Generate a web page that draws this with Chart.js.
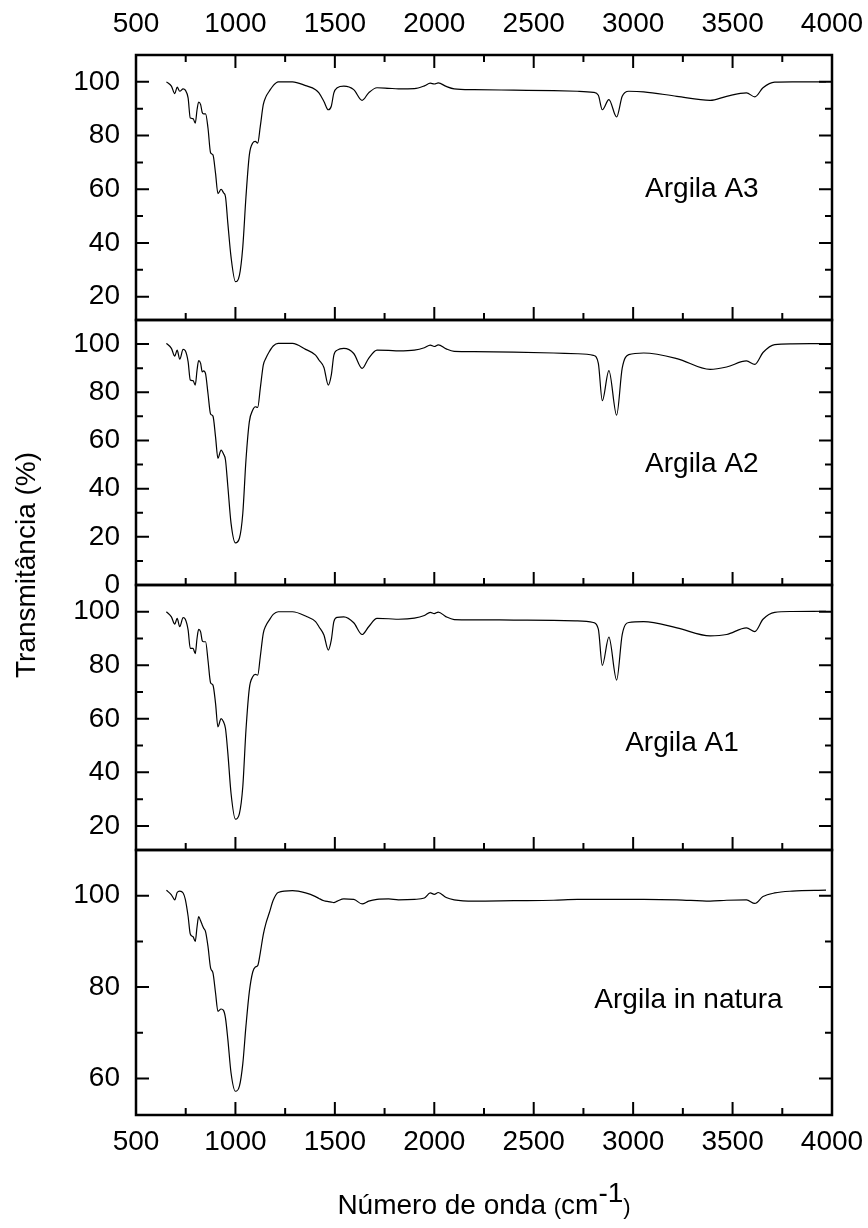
<!DOCTYPE html>
<html>
<head>
<meta charset="utf-8">
<script src="https://cdn.jsdelivr.net/npm/chart.js@4.4.1/dist/chart.umd.min.js"></script>
<style>
  body { margin: 0; background: #fff; }
  #wrap { position: relative; width: 868px; height: 1228px; font-family: "Liberation Sans", Arial, sans-serif; color: #000; }
  #wrap canvas { position: absolute; left: 0; top: 0; }
  .ytitle { position: absolute; left: -174px; top: 550px; width: 400px; height: 30px; line-height: 30px;
            font-size: 28px; text-align: center; white-space: nowrap; transform: rotate(-90deg); }
  .xtitle { position: absolute; left: 136px; top: 1191px; width: 696px; line-height: 28px;
            font-size: 28px; text-align: center; white-space: nowrap; }
  .xtitle .sm { font-size: 22px; }
  .xtitle .sup { position: relative; top: -12px; }
</style>
</head>
<body>
<div id="wrap">
  <canvas id="js-ftirChart" width="868" height="1228"></canvas>
  <div class="ytitle">Transmitância (%)</div>
  <div class="xtitle">Número de onda <span class="sm">(</span>cm<span class="sup">-1</span><span class="sm">)</span></div>
</div>
<script>
// wavenumbers (cm-1), shared by all four spectra
var wavenumber = [653, 678, 695, 707, 720, 737, 748, 762, 773, 787,
  798, 807, 815, 825, 833, 840, 850, 862, 875, 887,
  900, 912, 928, 940, 950, 962, 978, 1000, 1020, 1037,
  1053, 1070, 1087, 1100, 1112, 1125, 1140, 1153, 1170, 1190,
  1215, 1287, 1353, 1403, 1420, 1445, 1467, 1482, 1495, 1512,
  1545, 1595, 1637, 1670, 1712, 1770, 1820, 1900, 1950, 1980,
  2000, 2020, 2060, 2100, 2200, 2400, 2600, 2720, 2800, 2825,
  2845, 2878, 2917, 2945, 2978, 3053, 3220, 3387, 3470, 3570,
  3612, 3653, 3712, 3800, 3970];

// transmittance (%)
var argilaA3 = [100, 98.4, 95.6, 98, 96.5, 97.4, 96.9, 94, 86.5, 86.3,
  84.6, 89.6, 92.5, 91.5, 88.6, 88.1, 88.1, 82.8, 73.6, 72.8,
  65.9, 58.4, 60, 58.7, 57.2, 47.2, 34.7, 25.6, 27.9, 38.5,
  57.2, 72.8, 77.2, 77.8, 77.2, 83.4, 91.5, 94.4, 96.5, 98.6,
  100, 100, 98.6, 97.1, 95.9, 92.7, 89.6, 90.9, 95.9, 97.8,
  98.4, 97.1, 93.1, 95.9, 97.8, 97.6, 97.4, 97.5, 98.5, 99.5,
  99.2, 99.6, 98.3, 97.4, 97.1, 96.9, 96.7, 96.5, 96.1, 95,
  89.6, 93.4, 86.9, 94.6, 96.5, 96.3, 94.6, 93.1, 94.6, 95.9,
  94.4, 97.8, 99.9, 100, 100];

var argilaA2 = [100.3, 98.2, 95, 97.5, 93.7, 97.8, 97.2, 92.7, 85.1, 84.8,
  83, 89.2, 93.1, 92, 88.5, 88.9, 87.6, 79.5, 71, 70.1,
  61.5, 52.6, 56, 54.4, 51.9, 40.8, 25.6, 17.5, 19.4, 29.7,
  51.9, 67.8, 72.6, 74, 73.7, 81.6, 91.3, 94.1, 96.8, 99.2,
  100.3, 100.3, 97.8, 95.4, 93.4, 90.3, 83, 87.1, 95.4, 97.5,
  98.2, 96.1, 89.9, 94.1, 97.5, 97.4, 97.2, 97.5, 98.5, 99.6,
  99, 99.7, 98, 97, 96.9, 96.7, 96.3, 96, 95.3, 92,
  76.5, 89, 70.5, 90, 95.6, 96.3, 94, 89.5, 90.5, 93,
  91.6, 96.5, 99.8, 100.1, 100.2];

var argilaA1 = [100, 98.1, 95.4, 97.5, 94.4, 97.8, 97.2, 93.2, 86.3, 86.3,
  84.4, 90.1, 93.4, 92.5, 89.2, 88.8, 88.8, 81.9, 73.5, 72.6,
  65.8, 57, 60.1, 58.9, 56.4, 47.1, 32.1, 22.5, 24.6, 34.6,
  55.8, 71.4, 75.7, 76.6, 76.3, 83.2, 91.9, 94.8, 96.9, 99,
  100, 100, 98.4, 96.3, 94.4, 91.3, 85.7, 89.4, 96.3, 97.9,
  98.1, 95.9, 91.5, 94.4, 97.5, 97.4, 97.2, 97.6, 98.6, 99.8,
  99.3, 99.9, 98.1, 97.1, 97, 96.9, 96.8, 96.6, 96, 93.5,
  80, 90.5, 74.5, 91.5, 96, 96.3, 94, 91, 91.5, 94,
  92.6, 97.2, 99.8, 100.1, 100.2];

var argilaNatura = [101.2, 100.2, 99.1, 100.7, 101, 100.6, 99.2, 95.5, 91.6, 91,
  90, 93.2, 95.4, 94.5, 93.6, 92.9, 92.1, 88.9, 84.2, 83.1,
  78.7, 74.7, 75.2, 74.9, 73.2, 68.5, 61.2, 57.2, 58.3, 63.2,
  71.5, 79, 83.3, 84.4, 84.7, 87.5, 91.5, 93.9, 96.2, 99,
  100.7, 101.1, 100.6, 99.8, 99.4, 98.9, 98.7, 98.6, 98.5, 98.8,
  99.3, 99.2, 98.2, 98.8, 99.2, 99.3, 99.1, 99.2, 99.5, 100.6,
  100.3, 100.7, 99.6, 99.1, 98.8, 98.9, 99, 99.2, 99.2, 99.2,
  99.2, 99.2, 99.2, 99.2, 99.2, 99.2, 99.1, 98.8, 99, 99.1,
  98.3, 99.8, 100.6, 101, 101.2];

var seriesNames = ['Argila A3', 'Argila A2', 'Argila A1', 'Argila in natura'];
var seriesValues = [argilaA3, argilaA2, argilaA1, argilaNatura];

// axes: top panel first
var panelIds = ['yA3', 'yA2', 'yA1', 'yN'];
var panelMin = [11.3, 0, 11, 52];
var panelMax = [110, 110, 110, 110];
var xMin = 500, xMax = 4000, xStep = 500, yStep = 20;

// where the panel names sit (data coords: wavenumber, transmittance at baseline)
var nameAt = [[3060, 57], [3060, 46.7], [2960, 48.1], [2805, 75.5]];

var FONT = {family: '"Liberation Sans", Arial, sans-serif', size: 28};
var plainLabel = function(v) { return String(v); };

/*--------------------
    frame, inner ticks, names
--------------------*/
var framePlugin = {
    id: 'framePlugin',
    afterDatasetsDraw: function(chart) {
        var ctx = chart.ctx;
        var left = chart.chartArea.left, right = chart.chartArea.right;
        var x = chart.scales.x;
        ctx.save();
        ctx.strokeStyle = '#000';
        panelIds.forEach(function(id, k) {
            var s = chart.scales[id];
            ctx.lineWidth = 2;
            ctx.beginPath();
            for (var v = Math.ceil(s.min / 10) * 10; v <= s.max; v += 10) {
                var py = s.getPixelForValue(v);
                var len = v % 20 === 0 ? 13 : 7;
                ctx.moveTo(left, py); ctx.lineTo(left + len, py);
                ctx.moveTo(right, py); ctx.lineTo(right - len, py);
            }
            for (var w = xMin; w <= xMax; w += 250) {
                var px = x.getPixelForValue(w);
                var l2 = w % 500 === 0 ? 13 : 7;
                ctx.moveTo(px, s.bottom); ctx.lineTo(px, s.bottom - l2);
                if (k === 0) { ctx.moveTo(px, s.top); ctx.lineTo(px, s.top + l2); }
            }
            ctx.stroke();
            ctx.lineWidth = 2.5;
            ctx.strokeRect(left, s.top, right - left, s.bottom - s.top);

            ctx.fillStyle = '#000';
            ctx.font = FONT.size + 'px ' + FONT.family;
            ctx.textAlign = 'left';
            ctx.textBaseline = 'alphabetic';
            ctx.fillText(seriesNames[k], x.getPixelForValue(nameAt[k][0]), s.getPixelForValue(nameAt[k][1]));
        });
        ctx.restore();
    }
};

var noPad = function(s) { s.paddingLeft = 0; s.paddingRight = 0; s.paddingTop = 0; s.paddingBottom = 0; };

var scales = {
    x: {
        type: 'linear', position: 'bottom', min: xMin, max: xMax,
        ticks: {stepSize: xStep, padding: 10, font: FONT, color: '#000', autoSkip: false, maxRotation: 0, callback: plainLabel},
        grid: {display: false, drawTicks: false}, border: {display: false},
        afterFit: function(s) { s.height = 113; noPad(s); }
    },
    x2: {
        type: 'linear', position: 'top', min: xMin, max: xMax,
        ticks: {stepSize: xStep, padding: 14, font: FONT, color: '#000', autoSkip: false, maxRotation: 0, callback: plainLabel},
        grid: {display: false, drawTicks: false}, border: {display: false},
        afterFit: function(s) { s.height = 55; noPad(s); }
    }
};
panelIds.forEach(function(id, k) {
    scales[id] = {
        type: 'linear', position: 'left', stack: 'panels', stackWeight: 1, weight: panelIds.length - k,
        min: panelMin[k], max: panelMax[k],
        ticks: {stepSize: yStep, padding: 16, font: FONT, color: '#000', autoSkip: false, includeBounds: false, callback: plainLabel},
        grid: {display: false, drawTicks: false}, border: {display: false},
        afterFit: function(s) { s.width = 136; noPad(s); }
    };
});

var ctx = document.getElementById('js-ftirChart').getContext('2d');
var myChart = new Chart(ctx, {
    type: 'line',
    data: {
        datasets: seriesValues.map(function(vals, k) {
            return {
                label: seriesNames[k],
                data: wavenumber.map(function(w, i) { return {x: w, y: vals[i]}; }),
                xAxisID: 'x',
                yAxisID: panelIds[k],
                borderColor: '#000',
                borderWidth: 1.2,
                pointRadius: 0,
                fill: false,
                cubicInterpolationMode: 'monotone'
            };
        })
    },
    options: {
        responsive: false,
        animation: false,
        devicePixelRatio: 1,
        layout: {padding: {left: 0, right: 36, top: 0, bottom: 0}},
        plugins: {legend: {display: false}, tooltip: {enabled: false}},
        scales: scales
    },
    plugins: [framePlugin]
});
</script>
</body>
</html>
